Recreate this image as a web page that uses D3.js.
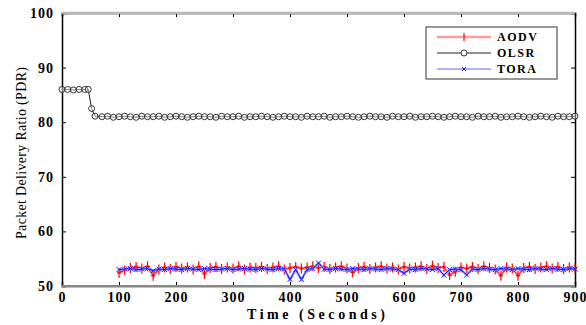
<!DOCTYPE html>
<html lang="en">
<head>
    <meta charset="UTF-8">
    <title>PDR vs Time</title>
    <style>
        body { margin: 0; background: #fff; }
        text { font-family: "Liberation Serif", "DejaVu Serif", serif; }
    </style>
</head>
<body>
    <div id="my_dataviz"></div>
    <script src="https://d3js.org/d3.v7.min.js"></script>
    <script>
        // tick labels
        var xTicks = [0, 100, 200, 300, 400, 500, 600, 700, 800, 900]
        var yTicks = [50, 60, 70, 80, 90, 100]
        var seriesNames = ["AODV", "OLSR", "TORA"]

        // sample times (seconds)
        var aodvTime = d3.range(100, 901, 10)
        var toraTime = d3.range(100, 901, 10)
        var olsrTime = [0, 10, 20, 30, 40, 46, 52, 58].concat(d3.range(70, 901, 10))

        // PDR values
        var aodvValues = [
            52.4, 52.9, 53.3, 53.5, 53.2, 53.6, 51.9, 53.0, 53.4, 53.1,
            53.5, 53.2, 53.4, 53.0, 53.6, 52.2, 53.3, 53.5, 53.1, 53.4,
            53.2, 53.6, 53.0, 53.4, 53.3, 53.5, 53.1, 53.4, 53.6, 53.0,
            53.3, 53.5, 53.2, 53.4, 53.6, 53.3, 53.5, 53.1, 53.4, 53.6,
            53.2, 52.5, 53.3, 53.5, 53.1, 53.4, 53.6, 53.2, 53.4, 53.0,
            53.5, 53.2, 53.4, 53.6, 53.1, 53.7, 53.3, 53.5, 52.0, 52.6,
            53.4, 53.2, 53.5, 53.1, 53.6, 53.3, 53.0, 51.9, 53.4, 53.2,
            51.9, 53.3, 53.5, 53.1, 53.4, 53.6, 53.2, 53.5, 53.1, 53.4, 53.2
        ]
        var toraValues = [
            53.0, 53.1, 53.2, 53.0, 53.1, 53.2, 52.8, 53.1, 53.0, 53.2,
            53.1, 53.0, 53.2, 53.1, 53.0, 53.2, 53.1, 53.0, 53.1, 53.2,
            53.0, 53.1, 53.2, 53.1, 53.0, 53.2, 53.1, 53.0, 53.2, 53.1,
            51.2, 53.0, 51.2, 53.0, 53.2, 54.2, 53.1, 53.0, 53.2, 53.1,
            53.0, 53.2, 53.1, 53.0, 53.2, 53.1, 53.0, 53.2, 53.1, 53.0,
            52.3, 53.1, 53.0, 53.2, 53.1, 53.0, 53.2, 52.0, 53.0, 53.1,
            53.0, 52.0, 53.1, 53.0, 53.2, 53.1, 53.0, 53.2, 53.1, 53.0,
            53.2, 53.1, 53.0, 53.2, 53.1, 53.0, 53.2, 53.1, 53.0, 53.2, 53.1
        ]
        var olsrValues = [
            86.0, 86.0, 85.9, 86.0, 86.0, 86.0, 82.5, 81.1,
            81.0, 81.1, 80.9, 81.0, 81.1, 81.0, 80.9, 81.1, 81.0, 81.0,
            81.1, 80.9, 81.0, 81.1, 81.0, 80.9, 81.0, 81.1, 81.0, 81.0,
            80.9, 81.1, 81.0, 81.0, 81.1, 80.9, 81.0, 81.0, 81.1, 81.0,
            80.9, 81.0, 81.1, 81.0, 81.0, 80.9, 81.1, 81.0, 81.0, 81.1,
            80.9, 81.0, 81.0, 81.1, 81.0, 80.9, 81.0, 81.1, 81.0, 81.0,
            80.9, 81.1, 81.0, 81.0, 81.1, 80.9, 81.0, 81.0, 81.1, 81.0,
            80.9, 81.0, 81.1, 81.0, 81.0, 80.9, 81.1, 81.0, 81.0, 81.1,
            80.9, 81.0, 81.0, 81.1, 81.0, 80.9, 81.0, 81.1, 81.0, 80.9,
            81.1, 81.0, 81.0, 81.1
        ]

        var width = 586, height = 325
        var margin = { top: 13, right: 11, bottom: 39, left: 62 }
        var innerW = width - margin.left - margin.right,
            innerH = height - margin.top - margin.bottom

        var svg = d3.select("#my_dataviz")
            .append("svg")
            .attr("width", width)
            .attr("height", height)

        var g = svg.append("g")
            .attr("transform", "translate(" + margin.left + "," + margin.top + ")")

        var x = d3.scaleLinear().domain([0, 900]).range([0, innerW])
        var y = d3.scaleLinear().domain([50, 100]).range([innerH, 0])

        // axes with inward ticks
        g.append("g")
            .attr("transform", "translate(0," + innerH + ")")
            .call(d3.axisBottom(x).tickValues(xTicks).tickSize(-4).tickPadding(6))
        g.append("g")
            .call(d3.axisLeft(y).tickValues(yTicks).tickSize(-4).tickPadding(8))
        g.append("g")
            .call(d3.axisTop(x).tickValues(xTicks).tickSize(-4).tickFormat(""))
        g.append("g")
            .attr("transform", "translate(" + innerW + ",0)")
            .call(d3.axisRight(y).tickValues(yTicks).tickSize(-4).tickFormat(""))

        g.selectAll(".domain").attr("stroke", "#000").attr("stroke-width", 1.5)
        g.selectAll(".tick line").attr("stroke", "#000")
        g.selectAll(".tick text")
            .attr("font-family", "Liberation Serif, serif")
            .attr("font-weight", "bold")
            .attr("font-size", 14)
            .attr("letter-spacing", 1)
            .attr("fill", "#000")

        // grey top and bottom edge like the original
        g.append("line").attr("x1", 0).attr("x2", innerW).attr("y1", 0).attr("y2", 0)
            .attr("stroke", "#b8b8b8").attr("stroke-width", 2.5)
        g.append("line").attr("x1", 0).attr("x2", innerW).attr("y1", innerH).attr("y2", innerH)
            .attr("stroke", "#888").attr("stroke-width", 2)

        var line = d3.line()
            .x(function (d) { return x(d[0]) })
            .y(function (d) { return y(d[1]) })

        var aodv = aodvTime.map(function (t, i) { return [t, aodvValues[i]] })
        var tora = toraTime.map(function (t, i) { return [t, toraValues[i]] })
        var olsr = olsrTime.map(function (t, i) { return [t, olsrValues[i]] })

        // AODV
        g.append("path").datum(aodv).attr("d", line)
            .attr("fill", "none").attr("stroke", "#ff9c9c").attr("stroke-width", 3)
        g.append("path").datum(aodv).attr("d", line)
            .attr("fill", "none").attr("stroke", "#ff2020").attr("stroke-width", 1)
        g.selectAll(".aodvMark").data(aodv).enter().append("path")
            .attr("d", function (d) {
                var px = x(d[0]), py = y(d[1])
                return "M" + px + "," + (py - 5) + "V" + (py + 5) + "M" + (px - 2) + "," + py + "H" + (px + 2)
            })
            .attr("stroke", "#ff0000").attr("stroke-width", 1.2)

        // OLSR
        g.append("path").datum(olsr).attr("d", line)
            .attr("fill", "none").attr("stroke", "#222").attr("stroke-width", 1)
        g.selectAll(".olsrMark").data(olsr).enter().append("circle")
            .attr("cx", function (d) { return x(d[0]) })
            .attr("cy", function (d) { return y(d[1]) })
            .attr("r", 3)
            .attr("fill", "#fff").attr("fill-opacity", 0.4)
            .attr("stroke", "#333").attr("stroke-width", 1)

        // TORA
        g.append("path").datum(tora).attr("d", line)
            .attr("fill", "none").attr("stroke", "#a8a8ff").attr("stroke-width", 2.5)
        g.append("path").datum(tora).attr("d", line)
            .attr("fill", "none").attr("stroke", "#1010ff").attr("stroke-width", 1)
        g.selectAll(".toraMark").data(tora).enter().append("path")
            .attr("d", function (d) {
                var px = x(d[0]), py = y(d[1]), s = 2.5
                return "M" + (px - s) + "," + (py - s) + "L" + (px + s) + "," + (py + s) +
                    "M" + (px - s) + "," + (py + s) + "L" + (px + s) + "," + (py - s)
            })
            .attr("stroke", "#2020ff").attr("stroke-width", 1)

        // axis titles
        svg.append("text")
            .attr("x", 316).attr("y", 319)
            .attr("text-anchor", "middle")
            .attr("font-weight", "bold")
            .attr("font-size", 14)
            .attr("textLength", 138)
            .text("Time (Seconds)")

        svg.append("text")
            .attr("transform", "translate(26,153) rotate(-90)")
            .attr("text-anchor", "middle")
            .attr("font-size", 14)
            .attr("textLength", 172)
            .text("Packet Delivery Ratio (PDR)")

        // Handmade legend
        var lg = svg.append("g").attr("transform", "translate(426,27)")
        lg.append("rect").attr("width", 131).attr("height", 52)
            .attr("fill", "#fff").attr("stroke", "#333").attr("stroke-width", 1)
        var rowY = [10, 26, 42]
        seriesNames.forEach(function (name, i) {
            var ry = rowY[i]
            if (name === "AODV") {
                lg.append("line").attr("x1", 11).attr("x2", 65).attr("y1", ry).attr("y2", ry)
                    .attr("stroke", "#ff9c9c").attr("stroke-width", 2.5)
                lg.append("line").attr("x1", 38).attr("x2", 38).attr("y1", ry - 4).attr("y2", ry + 4)
                    .attr("stroke", "#ff0000").attr("stroke-width", 1.2)
            } else if (name === "OLSR") {
                lg.append("line").attr("x1", 11).attr("x2", 65).attr("y1", ry).attr("y2", ry)
                    .attr("stroke", "#222").attr("stroke-width", 1)
                lg.append("circle").attr("cx", 38).attr("cy", ry).attr("r", 3)
                    .attr("fill", "#fff").attr("stroke", "#333")
            } else {
                lg.append("line").attr("x1", 11).attr("x2", 65).attr("y1", ry).attr("y2", ry)
                    .attr("stroke", "#6060ff").attr("stroke-width", 1)
                lg.append("path")
                    .attr("d", "M36," + (ry - 2) + "L40," + (ry + 2) + "M36," + (ry + 2) + "L40," + (ry - 2))
                    .attr("stroke", "#1010ff")
            }
            lg.append("text")
                .attr("x", 71).attr("y", ry + 4)
                .attr("font-weight", "bold")
                .attr("font-size", 12)
                .attr("letter-spacing", 1.5)
                .text(name)
        })
    </script>
</body>
</html>
